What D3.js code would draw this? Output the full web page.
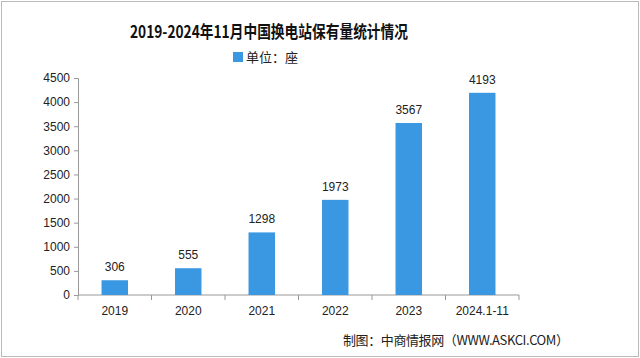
<!DOCTYPE html>
<html><head><meta charset="utf-8">
<script src="https://cdn.jsdelivr.net/npm/d3@7"></script>
<style>body{margin:0;background:#fff}svg{display:block}</style>
</head><body>
<script>
const categories = ["2019","2020","2021","2022","2023","2024.1-11"];
const values = [306,555,1298,1973,3567,4193];
const yTicks = [0,500,1000,1500,2000,2500,3000,3500,4000,4500];
const title = "2019-2024年11月中国换电站保有量统计情况";
const legendLabel = "单位：座";
const source = "制图：中商情报网（WWW.ASKCI.COM）";

const W=640,H=358;
const svg=d3.select("body").append("svg").attr("width",W).attr("height",H);
svg.append("rect").attr("x",1.5).attr("y",1.5).attr("width",W-3).attr("height",H-3).attr("fill","#fff").attr("stroke","#bbb");
const font="'Noto Sans CJK SC', 'Liberation Sans', sans-serif";
const color="#3a97e2";
const x=d3.scaleBand().domain(categories).range([78,519]).paddingInner(0.64).paddingOuter(0.32);
const y=d3.scaleLinear().domain([0,4500]).range([295,78]);

svg.append("text").attr("x",130).attr("y",38)
  .attr("textLength",278).attr("lengthAdjust","spacingAndGlyphs")
  .attr("font-family",font).attr("font-weight","bold").attr("font-size",17).attr("fill","#111").text(title);
svg.append("rect").attr("x",233).attr("y",52).attr("width",10).attr("height",10).attr("fill",color);
svg.append("text").attr("x",246).attr("y",62).attr("font-family",font).attr("font-size",13).attr("fill","#222").text(legendLabel);

const ya=svg.append("g").attr("transform","translate(78,0)")
  .call(d3.axisLeft(y).tickValues(yTicks).tickFormat(d3.format("d")).tickSize(4).tickPadding(4));
const xa=svg.append("g").attr("transform","translate(0,295)")
  .call(d3.axisBottom(x).tickSize(0).tickPadding(11));
[ya,xa].forEach(a=>{a.selectAll("path,line").attr("stroke","#999");
  a.selectAll("text").attr("font-family","'Liberation Sans', sans-serif").attr("font-size",12).attr("fill","#222");});
xa.select(".domain").attr("d","M78,0H519");
const bounds=d3.range(categories.length+1).map(i=>78+i*(519-78)/categories.length);
svg.append("g").selectAll("line").data(bounds).join("line")
  .attr("x1",d=>d).attr("x2",d=>d).attr("y1",295).attr("y2",300).attr("stroke","#999");

svg.append("g").selectAll("rect").data(values).join("rect")
  .attr("x",(d,i)=>x(categories[i])).attr("width",x.bandwidth())
  .attr("y",d=>y(d)).attr("height",d=>295-y(d)).attr("fill",color);
svg.append("g").selectAll("text").data(values).join("text")
  .attr("x",(d,i)=>x(categories[i])+x.bandwidth()/2).attr("y",d=>y(d)-9)
  .attr("text-anchor","middle").attr("font-family","'Liberation Sans', sans-serif").attr("font-size",12).attr("fill","#222").text(d=>d);

svg.append("text").attr("x",343).attr("y",345)
  .attr("textLength",226).attr("lengthAdjust","spacing")
  .attr("font-family",font).attr("font-size",13).attr("fill","#222").text(source);
</script>
</body></html>
